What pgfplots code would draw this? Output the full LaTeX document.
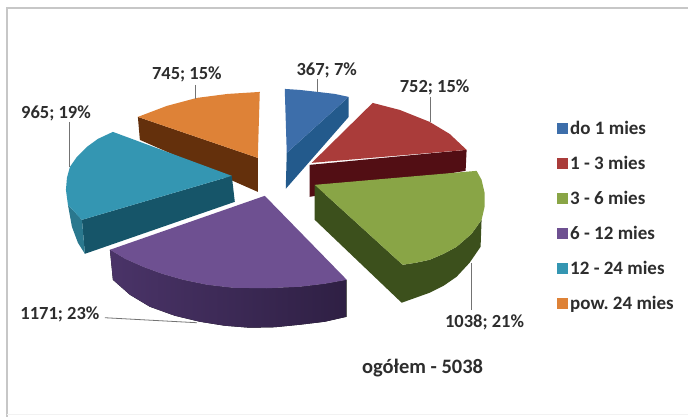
\documentclass[border=0pt]{standalone}
\usepackage{pgfplots}
\pgfplotsset{compat=1.18}
\usepackage{fontspec}
\setmainfont{Carlito}
\definecolor{bluetop}{RGB}{61,110,170}
\definecolor{blueside}{RGB}{35,90,140}
\definecolor{redtop}{RGB}{170,60,58}
\definecolor{redside}{RGB}{82,14,20}
\definecolor{greentop}{RGB}{137,165,70}
\definecolor{greenside}{RGB}{60,80,28}
\definecolor{purpletop}{RGB}{110,80,145}
\definecolor{purpleside}{RGB}{62,42,90}
\definecolor{tealtop}{RGB}{52,150,178}
\definecolor{tealside}{RGB}{22,85,105}
\definecolor{orangetop}{RGB}{222,130,55}
\definecolor{orangeside}{RGB}{100,48,12}
\definecolor{txt}{RGB}{45,45,45}
\begin{document}
\begin{tikzpicture}
\begin{axis}[
    x=1pt, y=1pt,
    y dir=reverse,
    xmin=0, xmax=689,
    ymin=0, ymax=417,
    hide axis,
    clip=false,
    legend cell align=left,
    legend style={
        at={(axis cs:557,119)}, anchor=north west,
        draw=none, fill=none,
        font=\fontsize{19}{20}\selectfont\bfseries\color{txt},
        row sep=16.2pt,
        inner sep=0pt,
        nodes={inner xsep=2.5pt},
    },
    legend image code/.code={\fill[#1] (0pt,-5.5pt) rectangle (11pt,5.5pt);},
    every axis plot/.append style={draw=none, fill},
]
% page and frame
\addplot[fill=white, forget plot] coordinates {(0,0)(689,0)(689,417)(0,417)} \closedcycle;
\addplot[draw=black!22, fill=none, line width=1.2pt, forget plot] coordinates {(7,417)(7,8)(689,8)};
\addplot[draw=black!5, fill=none, line width=1.2pt, forget plot] coordinates {(7,415)(689,415)};

% side walls in pixels
\addplot[fill=blueside, forget plot] coordinates {(349,97)(349,117)(286,189)(287,153)};
\addplot[fill=redside, forget plot] coordinates {(467,150)(466,171)(310,197)(310,165)};
\addplot[fill=orangeside, forget plot] coordinates {(138,117)(258,158)(258,192)(140,140)};
\addplot[fill=tealside, forget plot] coordinates {(82,220)(232,176)(235,202)(85,254)};
\addplot[fill=tealtop!80!black, forget plot] coordinates {(68,205)(72,227)(78,243)(85,254)(82,220)};
\addplot[fill=greenside, forget plot] coordinates {(315,185)(403,265)(416,263)(430,260)(444,254)(457,247)(472,234)(482,220)(481,247)(470,263)(457,277)(444,286)(430,293)(416,298)(402,303)(315,220)};
\addplot[left color=purpleside!75!purpletop, right color=purpleside!75!black, forget plot] coordinates {(110,250)(125,259)(143,267)(162,274)(183,280)(207,285)(233,288)(267,288.5)(300,287)(325,284)(347,280)(347,317)(325,322)(300,325)(275,327.5)(250,328)(225,326)(200,322)(175,316)(150,307)(130,295)(113,280)};

% top faces, in legend order
\addplot[fill=bluetop] coordinates {(285,89)(300,90)(318,92)(335,94)(349,97)(287,153)};
\addplot[fill=redtop] coordinates {(312,163)(373,103)(400,110)(430,122)(450,134)(467,150)};
\addplot[fill=greentop] coordinates {(315,185)(477,171)(482,180)(485,193)(485,207)(482,220)(472,234)(457,247)(444,254)(430,260)(416,263)(403,265)};
\addplot[fill=purpletop] coordinates {(265,196)(347,280)(325,284)(300,287)(267,288.5)(233,288)(207,285)(183,280)(162,274)(143,267)(125,259)(110,250)};
\addplot[fill=tealtop] coordinates {(232,176)(113,132)(98,139)(87,147)(77,157)(70,167)(67,178)(66,190)(68,205)(82,220)};
\addplot[fill=orangetop] coordinates {(260,92)(228,94)(197,98)(167,106)(138,117)(258,158)};
\legend{do 1 mies, 1 - 3 mies, 3 - 6 mies, 6 - 12 mies, 12 - 24 mies, pow.\ 24 mies}

% leader lines
\addplot[draw=black!55, fill=none, line width=0.8pt, forget plot] coordinates {(318,79)(318,92)};
\addplot[draw=black!55, fill=none, line width=0.8pt, forget plot] coordinates {(431,97)(431,122)};
\addplot[draw=black!55, fill=none, line width=0.8pt, forget plot] coordinates {(472,263)(472,310)};
\addplot[draw=black!55, fill=none, line width=0.8pt, forget plot] coordinates {(105,318)(197,323)};
\addplot[draw=black!55, fill=none, line width=0.8pt, forget plot] coordinates {(69,122)(69,167)};
\addplot[draw=black!55, fill=none, line width=0.8pt, forget plot] coordinates {(196,85)(196,99)};

% data labels
\begin{scope}[every node/.style={font=\fontsize{18.5}{20}\selectfont\bfseries, text=txt}]
\node at (axis cs:327,70) {367; 7\%};
\node at (axis cs:435,87) {752; 15\%};
\node at (axis cs:485,323) {1038; 21\%};
\node at (axis cs:60,315) {1171; 23\%};
\node at (axis cs:56,113) {965; 19\%};
\node at (axis cs:187,74) {745; 15\%};
\node[font=\fontsize{20.5}{22}\selectfont\bfseries] at (axis cs:423,368) {ogółem - 5038};
\end{scope}
\end{axis}
\end{tikzpicture}
\end{document}
